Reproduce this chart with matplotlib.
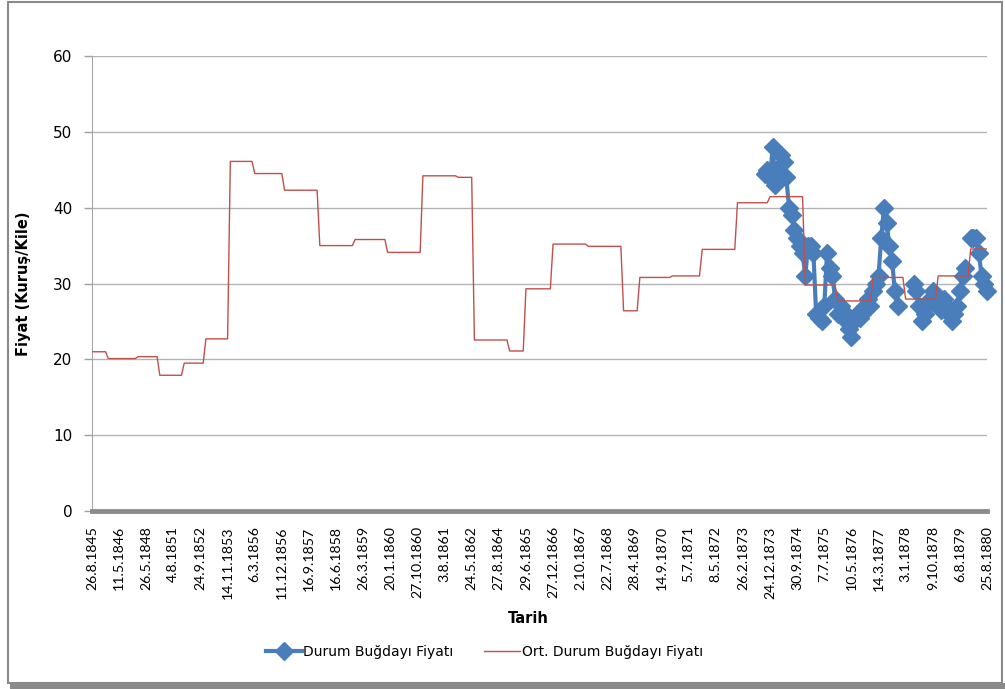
import numpy as np
import matplotlib.pyplot as plt
from matplotlib.patches import Rectangle

# ------------------------------------------------------------------
# Data
# ------------------------------------------------------------------
tick_labels = [
    "26.8.1845", "11.5.1846", "26.5.1848", "4.8.1851", "24.9.1852",
    "14.11.1853", "6.3.1856", "11.12.1856", "16.9.1857", "16.6.1858",
    "26.3.1859", "20.1.1860", "27.10.1860", "3.8.1861", "24.5.1862",
    "27.8.1864", "29.6.1865", "27.12.1866", "2.10.1867", "22.7.1868",
    "28.4.1869", "14.9.1870", "5.7.1871", "8.5.1872", "26.2.1873",
    "24.12.1873", "30.9.1874", "7.7.1875", "10.5.1876", "14.3.1877",
    "3.1.1878", "9.10.1878", "6.8.1879", "25.8.1880",
]
label_every = 10

# average price: level of each period and how many observations it covers
avg_levels = [21.0, 20.1, 20.35, 17.9, 19.5, 22.7, 46.1, 44.5, 42.3, 35.0,
              35.8, 34.1, 44.2, 44.0, 22.55, 21.1, 29.3, 35.2, 34.9, 26.4,
              30.8, 31.0, 34.5, 40.65, 41.45, 29.8, 27.7, 30.8, 27.95, 31.0,
              34.55]
avg_counts = [6, 11, 8, 9, 8, 9, 9, 11, 13, 13,
              12, 13, 13, 6, 13, 6, 10, 13, 13, 6,
              12, 11, 13, 12, 13, 12, 13, 12, 12, 12,
              7]

# observed prices, only recorded from late 1873 on (nan = no record)
price_start = 248
price_values = [
    44.5, 45, 44, 48, 43, 45, 47, 46, 44, 40,
    39, 37, 36, 35, 34, 31, 35, 35, 34, 26,
    25.5, 25, 27, 34, 32, 31, 28, 26, 27, 25.5,
    26, 24, 23, 25, 26, 25.5, 26, 27, 28, 27,
    29, 30, 31, 36, 40, 38, 35, 33, 29, 27,
    np.nan, np.nan, np.nan, np.nan, np.nan,
    30, 29, 27, 25, 26, 27, 28, 29, 28, 27,
    26.5, 28, 27, 26, 25, 26, 27, 29, 31, 32,
    np.nan,
    36, 36, 36, 34, 31, 30, 29,
]

# ------------------------------------------------------------------
avg_series = np.repeat(avg_levels, avg_counts)
n = len(avg_series)
x = np.arange(n)

price_series = np.full(n, np.nan)
price_series[price_start:price_start + len(price_values)] = price_values

blue = "#4a7ebb"
red = "#c0504d"

fig = plt.figure(figsize=(10.05, 6.89), dpi=100)
ax = fig.add_axes([92 / 1005, 1 - 511 / 689, (987 - 92) / 1005, (511 - 56) / 689])

ax.plot(x, price_series, color=blue, lw=3, marker="D", markersize=9.5,
        label="Durum Buğdayı Fiyatı", zorder=3, clip_on=False)
ax.plot(x, avg_series, color=red, lw=1.0, label="Ort. Durum Buğdayı Fiyatı",
        zorder=4)

ax.set_xlim(0, n - 1)
ax.set_ylim(0, 60)
ax.set_yticks(range(0, 61, 10))
ax.set_xticks(np.arange(0, n, label_every))
ax.set_xticklabels(tick_labels, rotation=90, family="Lato", fontsize=10.2)
ax.tick_params(axis="x", length=0, pad=11)
ax.tick_params(axis="y", length=6, width=1, color="#a0a0a0", labelsize=11, pad=8)

ax.grid(axis="y", color="#b4b4b4", lw=1)
ax.set_axisbelow(True)
for side in ["top", "right"]:
    ax.spines[side].set_visible(False)
ax.spines["left"].set_color("#a6a6a6")
ax.spines["bottom"].set_color("#8c8c8c")
ax.spines["bottom"].set_linewidth(3.5)

ax.set_ylabel("Fiyat (Kuruş/Kile)", fontsize=10.5, fontweight="bold")
ax.yaxis.set_label_coords(-0.068, 0.5)
ax.set_xlabel("Tarih", fontsize=10.5, fontweight="bold")
ax.xaxis.set_label_coords(0.487, -0.22)

fig.legend(loc="center", bbox_to_anchor=(0.482, 1 - 652 / 689), ncol=2,
           frameon=False, fontsize=10, handlelength=2.6, columnspacing=2.2,
           handletextpad=0.1)

# chart frame with a shadow at the bottom
fig.patches.append(Rectangle((8 / 1005, 1 - 683 / 689), 994 / 1005, 681 / 689,
                             transform=fig.transFigure, fill=False,
                             edgecolor="#8a8a8a", lw=1.5))
fig.patches.append(Rectangle((10 / 1005, 0), 995 / 1005, 6 / 689,
                             transform=fig.transFigure, facecolor="#8a8a8a",
                             edgecolor="none"))

fig.savefig("out.png", dpi=100)
